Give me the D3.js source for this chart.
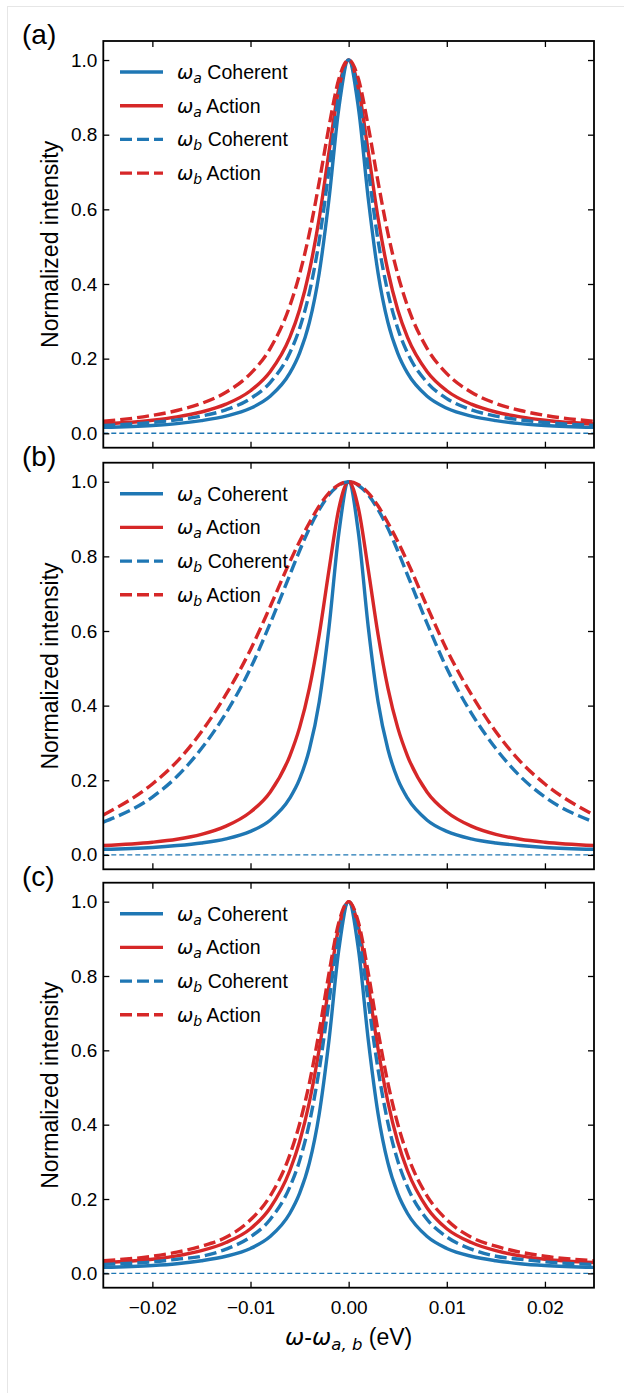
<!DOCTYPE html>
<meta charset="utf-8">
<style>
body { margin: 0; background: #fff; }
text { font-family: "Liberation Sans", Arial, sans-serif; fill: #000; }
.axis path, .axis line { stroke: #000; }
</style>
<svg width="624" height="1393"></svg>
<script src="https://cdn.jsdelivr.net/npm/d3@7"></script>
<script>

// detuning grid (eV)
var xs = [-0.025, -0.02, -0.0175, -0.015, -0.0125, -0.01, -0.008, -0.006, -0.005, -0.004, -0.003, -0.002, -0.001,
          0, 0.001, 0.002, 0.003, 0.004, 0.005, 0.006, 0.008, 0.01, 0.0125, 0.015, 0.0175, 0.02, 0.025];

// panel (a)
var a_aCoh = [.016, .021, .026, .034, .046, .067, .099, .161, .215, .297, .429, .628, .871, 1, .871, .628, .429, .297, .215, .161, .099, .067, .046, .034, .026, .021, .016];
var a_aAct = [.025, .035, .044, .057, .078, .114, .165, .257, .331, .435, .576, .754, .925, 1, .925, .754, .576, .435, .331, .257, .165, .114, .078, .057, .044, .035, .025];
var a_bCoh = [.021, .029, .036, .046, .063, .093, .136, .215, .281, .377, .516, .706, .906, 1, .906, .706, .516, .377, .281, .215, .136, .093, .063, .046, .036, .029, .021];
var a_bAct = [.032, .048, .061, .080, .110, .160, .227, .341, .426, .536, .673, .822, .949, 1, .949, .822, .673, .536, .426, .341, .227, .160, .110, .080, .061, .048, .032];

// panel (b)
var b_aCoh = [.015, .020, .025, .032, .043, .063, .093, .152, .203, .283, .410, .610, .862, 1, .862, .610, .410, .283, .203, .152, .093, .063, .043, .032, .025, .020, .015];
var b_aAct = [.025, .034, .042, .055, .077, .115, .168, .265, .341, .447, .590, .764, .928, 1, .928, .764, .590, .447, .341, .265, .168, .115, .077, .055, .042, .034, .025];
var b_bCoh = [.088, .155, .21, .285, .38, .50, .62, .75, .815, .875, .925, .965, .99, 1, .99, .965, .925, .875, .815, .75, .62, .50, .38, .285, .21, .155, .088];
var b_bAct = [.107, .19, .25, .33, .43, .55, .665, .785, .84, .89, .935, .97, .992, 1, .992, .97, .935, .89, .84, .785, .665, .55, .43, .33, .25, .19, .107];

// panel (c)
var c_aCoh = [.016, .021, .026, .034, .046, .067, .099, .161, .215, .297, .429, .628, .871, 1, .871, .628, .429, .297, .215, .161, .099, .067, .046, .034, .026, .021, .016];
var c_aAct = [.029, .038, .047, .061, .083, .120, .176, .276, .354, .461, .603, .774, .932, 1, .932, .774, .603, .461, .354, .276, .176, .120, .083, .061, .047, .038, .029];
var c_bCoh = [.024, .031, .038, .046, .065, .098, .145, .232, .303, .405, .548, .731, .916, 1, .916, .731, .548, .405, .303, .232, .145, .098, .065, .046, .038, .031, .024];
var c_bAct = [.034, .046, .057, .073, .097, .144, .208, .318, .402, .512, .651, .808, .944, 1, .944, .808, .651, .512, .402, .318, .208, .144, .097, .073, .057, .046, .034];

var panelLabels = ["(a)", "(b)", "(c)"];
var xTicks = [-0.02, -0.01, 0, 0.01, 0.02];
var yTicks = [0, 0.2, 0.4, 0.6, 0.8, 1.0];

var series = [
  { name: "a", label: " Coherent", color: "#1f77b4", dashed: false },
  { name: "a", label: " Action",   color: "#d62728", dashed: false },
  { name: "b", label: " Coherent", color: "#1f77b4", dashed: true },
  { name: "b", label: " Action",   color: "#d62728", dashed: true }
];
var panelData = [
  [a_aCoh, a_aAct, a_bCoh, a_bAct],
  [b_aCoh, b_aAct, b_bCoh, b_bAct],
  [c_aCoh, c_aAct, c_bCoh, c_bAct]
];

var svg = d3.select("svg");

// faint figure frame
svg.append("line").attr("x1", 7.5).attr("x2", 7.5).attr("y1", 6).attr("y2", 1393)
    .attr("stroke", "#e6e6e6").attr("stroke-width", 1);
svg.append("line").attr("x1", 7.5).attr("x2", 624).attr("y1", 6.5).attr("y2", 6.5)
    .attr("stroke", "#e6e6e6").attr("stroke-width", 1);

var left = 103.3, right = 594;
var boxes = [[41, 447.7], [462.7, 869.3], [882.7, 1287.7]];
var lw = 3.4;

var x = d3.scaleLinear().domain([-0.025, 0.025]).range([left, right]);
var fmtX = function(d) { return d3.format(".2f")(d).replace("-", "\u2212"); };

boxes.forEach(function(b, i) {
  var top = b[0], bottom = b[1];
  var y = d3.scaleLinear().domain([-0.0386, 1.051]).range([bottom, top]);
  var g = svg.append("g");

  g.append("clipPath").attr("id", "clip" + i)
    .append("rect").attr("x", left).attr("y", top).attr("width", right - left).attr("height", bottom - top);

  var plot = g.append("g").attr("clip-path", "url(#clip" + i + ")");

  // zero reference line
  plot.append("line")
      .attr("x1", left).attr("x2", right)
      .attr("y1", y(0)).attr("y2", y(0))
      .attr("stroke", "#1f77b4").attr("stroke-width", 1.4)
      .attr("stroke-dasharray", "5,3");

  var line = d3.line()
      .x(function(d, k) { return x(xs[k]); })
      .y(function(d) { return y(d); })
      .curve(d3.curveMonotoneX);

  series.forEach(function(s, k) {
    plot.append("path")
        .datum(panelData[i][k])
        .attr("d", line)
        .attr("fill", "none")
        .attr("stroke", s.color)
        .attr("stroke-width", lw)
        .attr("stroke-dasharray", s.dashed ? "12,5" : null);
  });

  // axes, ticks inward on all sides
  g.append("g").attr("class", "axis")
      .attr("transform", "translate(0," + bottom + ")")
      .call(d3.axisBottom(x).tickValues(xTicks).tickSizeInner(-6).tickSizeOuter(0).tickFormat(i == 2 ? fmtX : ""))
      .call(function(a) {
        a.select(".domain").remove();
        a.selectAll("line").attr("stroke-width", 1.3);
        a.selectAll("text").attr("font-size", 19).attr("dy", "1.25em");
      });
  g.append("g").attr("class", "axis")
      .attr("transform", "translate(0," + top + ")")
      .call(d3.axisTop(x).tickValues(xTicks).tickSizeInner(-6).tickSizeOuter(0).tickFormat(""))
      .call(function(a) { a.select(".domain").remove(); a.selectAll("line").attr("stroke-width", 1.3); });
  g.append("g").attr("class", "axis")
      .attr("transform", "translate(" + left + ",0)")
      .call(d3.axisLeft(y).tickValues(yTicks).tickSizeInner(-6).tickSizeOuter(0).tickPadding(6).tickFormat(d3.format(".1f")))
      .call(function(a) {
        a.select(".domain").remove();
        a.selectAll("line").attr("stroke-width", 1.3);
        a.selectAll("text").attr("font-size", 19);
      });
  g.append("g").attr("class", "axis")
      .attr("transform", "translate(" + right + ",0)")
      .call(d3.axisRight(y).tickValues(yTicks).tickSizeInner(-6).tickSizeOuter(0).tickFormat(""))
      .call(function(a) { a.select(".domain").remove(); a.selectAll("line").attr("stroke-width", 1.3); });

  g.append("rect")
      .attr("x", left).attr("y", top).attr("width", right - left).attr("height", bottom - top)
      .attr("fill", "none").attr("stroke", "#000").attr("stroke-width", 1.8);

  // panel label
  g.append("text").attr("x", 22).attr("y", top + 3)
      .attr("font-size", 28).text(panelLabels[i]);

  // y label
  g.append("text")
      .attr("transform", "translate(58," + ((top + bottom) / 2) + ") rotate(-90)")
      .attr("text-anchor", "middle").attr("font-size", 23)
      .text("Normalized intensity");

  // legend
  series.forEach(function(s, k) {
    var ly = top + 31 + k * 33.7;
    g.append("line")
        .attr("x1", 120).attr("x2", 163).attr("y1", ly).attr("y2", ly)
        .attr("stroke", s.color).attr("stroke-width", lw)
        .attr("stroke-dasharray", s.dashed ? "12,5" : null);
    var t = g.append("text").attr("x", 177).attr("y", ly + 7).attr("font-size", 19.5);
    t.append("tspan").attr("font-family", "DejaVu Sans").attr("font-style", "italic").text("\u03c9");
    t.append("tspan").attr("font-family", "DejaVu Sans").attr("font-style", "italic")
        .attr("font-size", 14).attr("dy", 4).text(s.name);
    t.append("tspan").attr("dy", -4).text(s.label);
  });
});

// x label
var xl = svg.append("text")
    .attr("x", (left + right) / 2).attr("y", 1345)
    .attr("text-anchor", "middle").attr("font-size", 23);
xl.append("tspan").attr("font-family", "DejaVu Sans").attr("font-style", "italic").text("\u03c9");
xl.append("tspan").text("-");
xl.append("tspan").attr("font-family", "DejaVu Sans").attr("font-style", "italic").text("\u03c9");
xl.append("tspan").attr("font-family", "DejaVu Sans").attr("font-style", "italic")
    .attr("font-size", 16.5).attr("dy", 5).text("a, b");
xl.append("tspan").attr("dy", -5).text(" (eV)");

</script>
